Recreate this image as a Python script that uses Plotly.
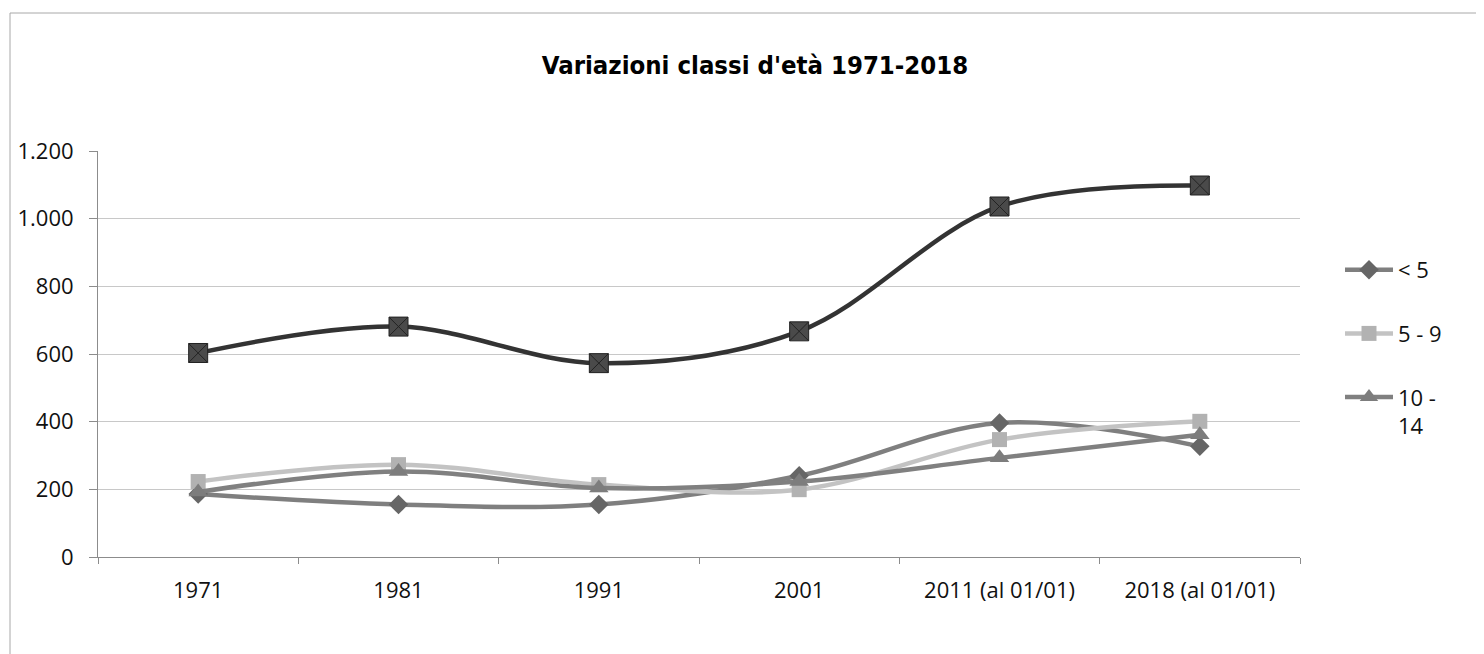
import plotly.graph_objects as go

categories = ["1971", "1981", "1991", "2001", "2011 (al 01/01)", "2018 (al 01/01)"]
under5 = [186, 155, 155, 240, 396, 327]
age5_9 = [223, 273, 214, 199, 347, 401]
age10_14 = [192, 253, 204, 223, 293, 361]
totale = [603, 681, 573, 667, 1036, 1098]
y_ticks = [0, 200, 400, 600, 800, 1000, 1200]

FONT = "Open Sans"
W, H = 1476, 646          # page body has an 8px margin
L, R, T, B = 90, 184, 143, 97
PW, PH = W - L - R, H - T - B

fig = go.Figure()

fig.add_trace(go.Scatter(
    x=categories, y=under5, name="< 5", mode="lines+markers", legendgroup="a",
    line=dict(color="#7f7f7f", width=4.5, shape="spline"),
    marker=dict(symbol="diamond", size=15, color="#666666", line=dict(width=0))))
fig.add_trace(go.Scatter(
    x=categories, y=age5_9, name="5 - 9", mode="lines+markers", legendgroup="b",
    line=dict(color="#c3c3c3", width=4.5, shape="spline"),
    marker=dict(symbol="square", size=15, color="#b2b2b2", line=dict(width=0))))
fig.add_trace(go.Scatter(
    x=categories, y=age10_14, name="10 -<br>14", mode="lines+markers", legendgroup="c",
    line=dict(color="#808080", width=4.5, shape="spline"),
    marker=dict(symbol="triangle-up", size=17, color="#7d7d7d", line=dict(width=0))))
fig.add_trace(go.Scatter(
    x=categories, y=totale, name="Totale", mode="lines+markers", showlegend=False,
    line=dict(color="#333333", width=4.5, shape="spline"),
    marker=dict(symbol="square-x", size=19, color="#4a4a4a",
                line=dict(width=1, color="#222222"))))

fig.update_layout(
    width=W, height=H,
    paper_bgcolor="white", plot_bgcolor="white",
    margin=dict(l=L, r=R, t=T, b=B, autoexpand=False),
    separators=",.",
    font=dict(family=FONT, size=22, color="#111111"),
    title=dict(text="<b>Variazioni classi d'età 1971-2018</b>",
               font=dict(family="DejaVu Sans Condensed, DejaVu Sans", size=25.5, color="#000000"),
               xref="container", x=747 / W, xanchor="center",
               yref="container", y=1 - 57 / H, yanchor="middle"),
    legend=dict(x=(1340 - 8 - L) / PW, xanchor="left", y=(549 - 241) / PH, yanchor="top",
                traceorder="grouped", tracegroupgap=32, valign="top", itemwidth=48,
                font=dict(family=FONT, size=22, color="#111111"),
                bgcolor="rgba(0,0,0,0)"),
    showlegend=True,
)

fig.update_xaxes(
    type="category", range=[-0.5, 5.5], automargin=False,
    showline=True, linecolor="#8c8c8c", linewidth=1,
    ticks="outside", tickson="boundaries", ticklen=6, tickcolor="#8c8c8c",
    showgrid=False, ticklabelstandoff=14,
    tickfont=dict(family=FONT, size=22, color="#111111"))
fig.update_yaxes(
    range=[0, 1200], tickvals=y_ticks, tickformat=",", automargin=False,
    showline=True, linecolor="#8c8c8c", linewidth=1,
    ticks="outside", ticklen=8, tickcolor="#8c8c8c",
    showgrid=True, gridcolor="#c8c8c8", gridwidth=1, zeroline=False,
    ticklabelstandoff=11,
    tickfont=dict(family=FONT, size=22, color="#111111"))

# outer chart frame
fig.add_shape(type="rect", xref="paper", yref="paper",
              x0=(2 - L) / PW, x1=(1475 - L) / PW,
              y0=(549 - 680) / PH, y1=(549 - 5) / PH,
              line=dict(color="#a8a8a8", width=1), fillcolor="rgba(0,0,0,0)", layer="below")

fig.write_html("out.html")
